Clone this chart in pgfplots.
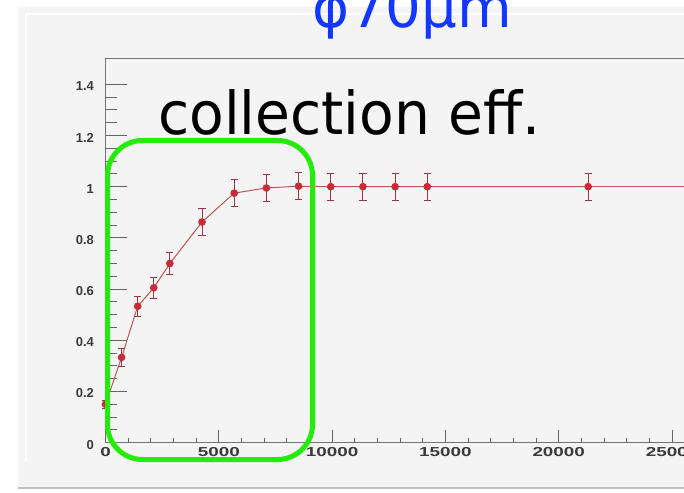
\documentclass[border=0pt]{standalone}
\usepackage{pgfplots}
\pgfplotsset{compat=1.18}
\usepackage{fontspec}
\usepackage{graphicx}
\setmainfont{Liberation Sans}
\newfontfamily\labelfont{Liberation Sans}
\newfontfamily\handfont{DejaVu Sans}

\definecolor{panelbg}{HTML}{F4F4F4}
\definecolor{ptred}{RGB}{200,45,55}
\definecolor{linered}{RGB}{190,85,85}
\definecolor{errred}{RGB}{150,55,65}
\definecolor{boxgreen}{RGB}{35,236,10}
\definecolor{titleblue}{RGB}{20,55,255}
\definecolor{ticklab}{HTML}{3A3A3A}

\begin{document}
\begin{tikzpicture}[x=1pt, y=1pt]
\useasboundingbox (0,0) rectangle (684,492);
% page and panel
\fill[white] (0,0) rectangle (684,492);
\fill[panelbg] (18,5) rectangle (684,485);
\draw[black!25, line width=1.6pt] (18,4) -- (684,4);
\draw[white, line width=1.2pt] (26,31) -- (26,478) -- (684,478);

% data, y axis and frame
\begin{axis}[
    at={(105.5pt,49.3pt)}, anchor=south west,
    scale only axis,
    width=580.1pt, height=384pt,
    xmin=0, xmax=25600,
    ymin=0, ymax=1.5,
    axis line style={draw=black!55, line width=1.2pt},
    xtick=\empty,
    ytick={0,0.2,0.4,0.6,0.8,1,1.2,1.4},
    yticklabels={0,0.2,0.4,0.6,0.8,1,1.2,1.4},
    minor y tick num=3,
    ytick pos=left,
    tick align=inside,
    major tick length=21pt,
    minor tick length=11.5pt,
    y tick style={draw=black!60, line width=1pt},
    yticklabel style={font=\labelfont\bfseries\fontsize{13}{13}\selectfont,
        text=ticklab, xshift=-8pt, yshift=-2pt},
    clip=false,
]

% measured points with their errors
\addplot[color=linered, line width=1pt,
    mark=*, mark size=3.3pt, mark options={fill=ptred, draw=ptred},
    error bars/.cd, y dir=both, y explicit,
    error bar style={errred, line width=1pt},
    error mark options={errred, line width=1pt, mark size=3.6pt, rotate=90}]
    coordinates {
        (0,0.150) +- (0,0.015)
        (710,0.333) +- (0,0.035)
        (1420,0.533) +- (0,0.040)
        (2130,0.605) +- (0,0.040)
        (2840,0.700) +- (0,0.043)
        (4260,0.862) +- (0,0.052)
        (5680,0.975) +- (0,0.052)
        (7100,0.995) +- (0,0.052)
        (8520,1.002) +- (0,0.052)
        (9940,1.000) +- (0,0.052)
        (11360,1.000) +- (0,0.052)
        (12780,1.000) +- (0,0.052)
        (14200,1.000) +- (0,0.052)
        (21300,1.000) +- (0,0.052)
    };

% line goes on at 1 to the edge
\addplot[color=linered, line width=1pt, forget plot]
    coordinates {(21300,1) (25600,1)};
\end{axis}

% x axis ticks
\begin{axis}[
    at={(105.5pt,49.3pt)}, anchor=south west,
    scale only axis,
    width=580.1pt, height=384pt,
    xmin=0, xmax=25600,
    ymin=0, ymax=1.5,
    axis line style={draw=none},
    ytick=\empty,
    xtick={0,5000,10000,15000,20000,25000},
    xticklabels={0,5000,10000,15000,20000,25000},
    scaled x ticks=false,
    minor x tick num=4,
    xtick pos=bottom,
    tick align=inside,
    major tick length=12.7pt,
    minor tick length=5pt,
    x tick style={draw=black!60, line width=1pt},
    xticklabel style={font=\labelfont\bfseries\fontsize{13}{13}\selectfont,
        text=ticklab, xscale=1.45, yshift=-1pt},
    clip=false,
]
\end{axis}

% green highlight box
\draw[boxgreen, line width=5pt, rounded corners=35pt]
    (107.5,32.5) rectangle (312.5,351.5);

% hand-written labels
\node[anchor=base west, inner sep=0pt] at (158,357)
    {\resizebox{382pt}{45pt}{\handfont collection eff.}};
\node[anchor=base, inner sep=0pt, text=titleblue] at (412.5,464)
    {\resizebox{199pt}{!}{\handfont φ70μm}};
\end{tikzpicture}
\end{document}
